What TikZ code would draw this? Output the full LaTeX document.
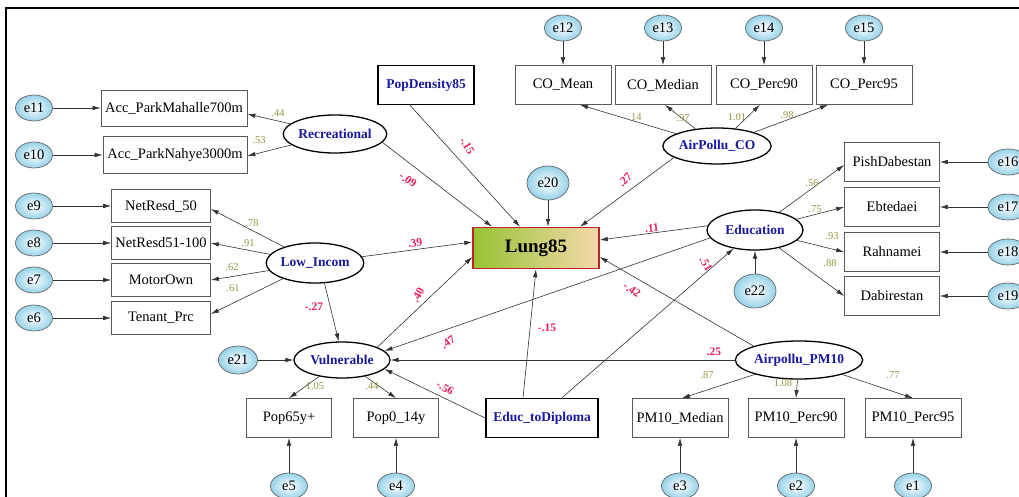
\documentclass[tikz,border=0pt]{standalone}
\usepackage{fontspec}
\setmainfont{Liberation Serif}
\usetikzlibrary{shapes.geometric,arrows.meta}
\definecolor{latblue}{RGB}{25,25,160}
\definecolor{pathred}{RGB}{232,30,90}
\definecolor{loadol}{RGB}{150,150,70}
\definecolor{errblue}{RGB}{150,210,232}
\definecolor{lunggreen}{RGB}{150,195,50}
\definecolor{lungtan}{RGB}{246,216,172}
\definecolor{lungred}{RGB}{190,35,35}
\begin{document}
\begin{tikzpicture}[x=1pt,y=-1pt,
  obs/.style={draw=black!65, line width=0.7pt, rectangle, minimum width=#1, minimum height=39pt, inner sep=0pt, font=\fontsize{14.5}{16}\selectfont},
  obs/.default=96pt,
  expl/.style={draw=black, line width=1.6pt, rectangle, minimum width=#1, minimum height=39pt, inner sep=0pt, text=latblue, font=\bfseries\fontsize{13.5}{15}\selectfont},
  lat/.style={ellipse, draw=black, line width=1.3pt, minimum width=#1, minimum height=38pt, inner sep=0pt, text=latblue, font=\bfseries\fontsize{13.5}{15}\selectfont},
  lat/.default=96pt,
  err/.style={ellipse, draw=black!60, line width=0.7pt, inner color=white, outer color=errblue, minimum width=37pt, minimum height=26pt, inner sep=0pt, font=\fontsize{14.5}{16}\selectfont},
  errbig/.style={err, minimum width=42pt, minimum height=34pt},
  arr/.style={draw=black!80, line width=0.6pt, -{Latex[length=8pt,width=4.5pt]}},
  rl/.style={text=pathred, inner sep=0pt, font=\bfseries\fontsize{11.5}{12}\selectfont},
  ol/.style={text=loadol, inner sep=0pt, font=\fontsize{10.5}{11}\selectfont}
]
\clip (0,0) rectangle (1019,497);
\fill[white] (0,0) rectangle (1019,497);
\draw[line width=2.5pt] (6,500) -- (6,8) -- (1022,8);

% ---- left block ----
\node[obs=146pt, minimum height=36pt] (acc1) at (174,108) {Acc\_ParkMahalle700m};
\node[obs=144pt, minimum height=37pt] (acc2) at (175,155) {Acc\_ParkNahye3000m};
\node[err] (e11) at (34,108) {e11};
\node[err] (e10) at (34,155) {e10};
\node[lat] (rec) at (335,134) {Recreational};

\node[obs=99pt, minimum height=33pt] (nr50) at (161,206) {NetResd\_50};
\node[obs=99pt, minimum height=33pt] (nr51) at (161,243) {NetResd51-100};
\node[obs=99pt, minimum height=33pt] (mot) at (161,280) {MotorOwn};
\node[obs=99pt, minimum height=33pt] (ten) at (161,318) {Tenant\_Prc};
\node[err] (e9) at (34,206) {e9};
\node[err] (e8) at (34,243) {e8};
\node[err] (e7) at (34,280) {e7};
\node[err] (e6) at (34,318) {e6};
\node[lat, minimum height=40pt] (low) at (315,263) {Low\_Incom};

% ---- top block ----
\node[expl=96pt] (pop) at (426,85) {PopDensity85};
\node[obs] (com) at (563,85) {CO\_Mean};
\node[obs] (comed) at (663,85) {CO\_Median};
\node[obs] (cop90) at (764,85) {CO\_Perc90};
\node[obs] (cop95) at (864,85) {CO\_Perc95};
\node[err] (e12) at (563,28) {e12};
\node[err] (e13) at (663,28) {e13};
\node[err] (e14) at (764,28) {e14};
\node[err] (e15) at (864,28) {e15};
\node[lat, minimum height=36pt] (apco) at (717,146) {AirPollu\_CO};

% ---- centre ----
\node[errbig] (e20) at (548,183) {e20};
\node[draw=lungred, line width=1.5pt, left color=lunggreen, right color=lungtan, minimum width=126pt, minimum height=41pt, inner sep=0pt, font=\bfseries\fontsize{19}{21}\selectfont] (lung) at (536,248) {Lung85};

% ---- right block ----
\node[lat, minimum height=40pt] (edu) at (755,230) {Education};
\node[errbig] (e22) at (755,291) {e22};
\node[obs=95pt] (pish) at (892,162) {PishDabestan};
\node[obs=95pt] (ebt) at (892,207) {Ebtedaei};
\node[obs=95pt] (rah) at (892,252) {Rahnamei};
\node[obs=95pt] (dab) at (892,296) {Dabirestan};
\node[err, minimum width=40pt] (e16) at (1008,162) {e16};
\node[err, minimum width=40pt] (e17) at (1008,207) {e17};
\node[err, minimum width=40pt] (e18) at (1008,252) {e18};
\node[err, minimum width=40pt] (e19) at (1008,296) {e19};

% ---- bottom block ----
\node[lat, minimum height=36pt] (vul) at (342,360) {Vulnerable};
\node[err, minimum width=39pt, minimum height=28pt] (e21) at (238,360) {e21};
\node[obs=85pt] (p65) at (289,418) {Pop65y+};
\node[obs=85pt] (p014) at (396,418) {Pop0\_14y};
\node[expl=112pt] (dip) at (542,418) {Educ\_toDiploma};
\node[lat=110pt, minimum height=38pt] (pm) at (799,360) {Airpollu\_PM10};
\node[obs] (pmmed) at (680,418) {PM10\_Median};
\node[obs] (pm90) at (796,418) {PM10\_Perc90};
\node[obs] (pm95) at (913,418) {PM10\_Perc95};
\node[err] (e5) at (289,486) {e5};
\node[err] (e4) at (396,486) {e4};
\node[err] (e3) at (680,486) {e3};
\node[err] (e2) at (796,486) {e2};
\node[err] (e1) at (913,486) {e1};

% ---- error arrows ----
\draw[arr] (e11) -- (acc1);
\draw[arr] (e10) -- (acc2);
\draw[arr] (e9) -- (nr50);
\draw[arr] (e8) -- (nr51);
\draw[arr] (e7) -- (mot);
\draw[arr] (e6) -- (ten);
\draw[arr] (e12) -- (com);
\draw[arr] (e13) -- (comed);
\draw[arr] (e14) -- (cop90);
\draw[arr] (e15) -- (cop95);
\draw[arr] (e16) -- (pish);
\draw[arr] (e17) -- (ebt);
\draw[arr] (e18) -- (rah);
\draw[arr] (e19) -- (dab);
\draw[arr] (e5) -- (p65);
\draw[arr] (e4) -- (p014);
\draw[arr] (e3) -- (pmmed);
\draw[arr] (e2) -- (pm90);
\draw[arr] (e1) -- (pm95);
\draw[arr] (e20) -- ([xshift=12pt]lung.north);
\draw[arr] (e22) -- (edu);
\draw[arr] (e21) -- (vul);

% ---- measurement arrows ----
\draw[arr] (rec) -- ([yshift=-6pt]acc1.east);
\draw[arr] (rec) -- ([yshift=-1pt]acc2.east);
\draw[arr] (low) -- ([yshift=-3pt]nr50.east);
\draw[arr] (low) -- (nr51.east);
\draw[arr] (low) -- (mot.east);
\draw[arr] (low) -- ([yshift=4pt]ten.east);
\draw[arr] (apco) -- ([xshift=17pt]com.south);
\draw[arr] (apco) -- ([xshift=2pt]comed.south);
\draw[arr] (apco) -- ([xshift=-4pt]cop90.south);
\draw[arr] (apco) -- ([xshift=-36pt]cop95.south);
\draw[arr] (edu) -- ([yshift=-3pt]pish.west);
\draw[arr] (edu) -- (ebt.west);
\draw[arr] (edu) -- (rah.west);
\draw[arr] (edu) -- (dab.west);
\draw[arr] (vul) -- (p65.north);
\draw[arr] (vul) -- (p014.north);
\draw[arr] (pm) -- ([xshift=2pt]pmmed.north);
\draw[arr] (pm) -- (pm90.north);
\draw[arr] (pm) -- (pm95.north);

% ---- structural arrows ----
\draw[arr] (rec.-10) -- ([xshift=-44pt]lung.north);
\draw[arr] ([xshift=-16pt]pop.south) -- ([xshift=-16pt]lung.north);
\draw[arr] (apco.-165) -- ([xshift=44pt]lung.north);
\draw[arr] (low) -- ([yshift=6pt]lung.west);
\draw[arr] (low.-65) -- (vul.100);
\draw[arr] (vul.20) -- ([yshift=-9pt]lung.west);
\draw[arr] (edu.175) -- ([yshift=8pt]lung.east);
\draw[arr] (edu.190) -- (vul.12);
\draw[arr] (pm.163) -- ([yshift=-9pt]lung.east);
\draw[arr] (pm) -- (vul.east);
\draw[arr] ([xshift=-19pt]dip.north) -- (lung.south);
\draw[arr] ([xshift=20pt]dip.north) -- (edu);
\draw[arr] (dip.west) -- (vul.-12);

% ---- structural labels ----
\node[rl, rotate=-35] (l1) at (408,180) {-.09};
\node[rl, rotate=-58] (l2) at (467,146) {-.15};
\node[rl, rotate=45] (l3) at (625,180) {.27};
\node[rl, rotate=10] (l4) at (415,243) {.39};
\node[rl, rotate=60] (l5) at (418,295) {.40};
\node[rl, rotate=35] (l6) at (448,342) {.47};
\node[rl] (l7) at (547,328) {-.15};
\node[rl, rotate=5] (l8) at (652,228) {.11};
\node[rl, rotate=-35] (l9) at (632,290) {-.42};
\node[rl] (l10) at (714,352) {.25};
\node[rl, rotate=-58] (l11) at (706,264) {.51};
\node[rl, rotate=-30] (l12) at (445,388) {-.56};
\node[rl] (l13) at (314,307) {-.27};

% ---- loading labels ----
\node[ol] (m1) at (278,113) {.44};
\node[ol] (m2) at (259,140) {.53};
\node[ol] (m3) at (252,223) {.78};
\node[ol] (m4) at (248,243) {.91};
\node[ol] (m5) at (232,267) {.62};
\node[ol] (m6) at (233,288) {.61};
\node[ol] (m7) at (635,117) {.14};
\node[ol] (m8) at (683,118) {.97};
\node[ol] (m9) at (737,117) {1.01};
\node[ol] (m10) at (787,115) {.98};
\node[ol] (m11) at (812,183) {.56};
\node[ol] (m12) at (815,209) {.75};
\node[ol] (m13) at (832,236) {.93};
\node[ol] (m14) at (830,263) {.88};
\node[ol] (m15) at (315,386) {1.05};
\node[ol] (m16) at (372,386) {.44};
\node[ol] (m17) at (707,375) {.87};
\node[ol] (m18) at (783,383) {1.08};
\node[ol] (m19) at (893,375) {.77};
\end{tikzpicture}
\end{document}
